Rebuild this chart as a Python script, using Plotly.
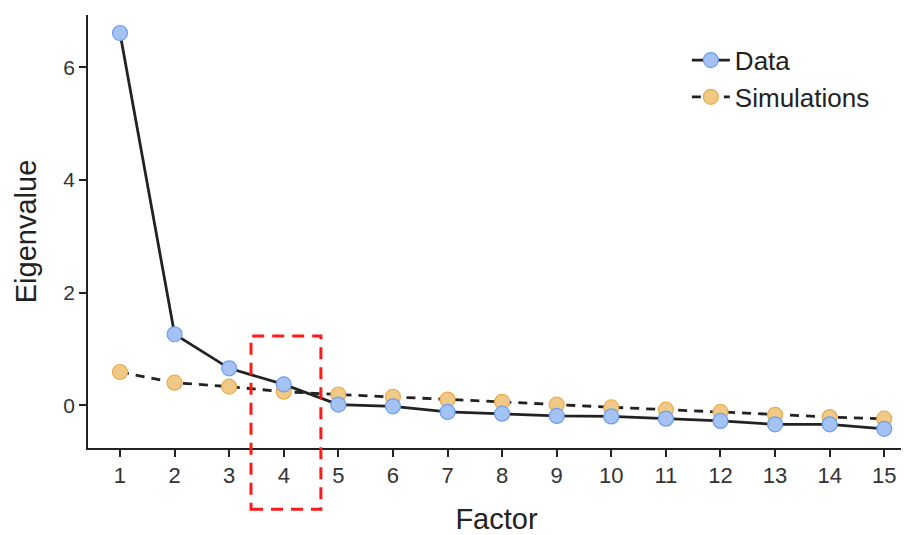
import plotly.graph_objects as go

factors = list(range(1, 16))
data_vals = [6.61, 1.26, 0.655, 0.37, 0.01, -0.02, -0.12, -0.15, -0.19, -0.20, -0.24, -0.28, -0.34, -0.34, -0.42]
sim_vals = [0.59, 0.40, 0.33, 0.24, 0.19, 0.15, 0.10, 0.06, 0.01, -0.04, -0.08, -0.12, -0.17, -0.21, -0.24]
x_ticks = list(range(1, 16))
y_ticks = [0, 2, 4, 6]

# highlight box around factor 4 (data units)
box_x = [3.40, 4.68]
box_y = [-1.85, 1.23]

x_range = [0.414, 15.38]
y_range = [-0.76, 6.93]

FONT = "Liberation Sans, Arial, Helvetica, sans-serif"
INK = "#222222"

fig = go.Figure()
fig.add_trace(go.Scatter(
    x=factors, y=sim_vals, name="Simulations", mode="lines+markers",
    line=dict(color=INK, width=2.8, dash="9px,7px"),
    marker=dict(size=15, color="#f0c987", line=dict(color="#e8ad52", width=1.2)),
    legendrank=2,
))
fig.add_trace(go.Scatter(
    x=factors, y=data_vals, name="Data", mode="lines+markers",
    line=dict(color=INK, width=2.8),
    marker=dict(size=15, color="#a4c2f4", line=dict(color="#6d9eeb", width=1.2)),
    legendrank=1,
))

def fx(v):
    return (v - x_range[0]) / (x_range[1] - x_range[0])

def fy(v):
    return (v - y_range[0]) / (y_range[1] - y_range[0])

fig.add_shape(type="rect", xref="x domain", yref="y domain",
              x0=fx(box_x[0]), x1=fx(box_x[1]), y0=fy(box_y[0]), y1=fy(box_y[1]),
              line=dict(color="#ff1a1a", width=3, dash="12px,8px"), layer="above")

# page body has an 8px default margin, so the figure is sized/offset to compensate
fig.update_layout(
    width=901, height=527,
    margin=dict(l=80, r=4, t=7, b=87),
    paper_bgcolor="white", plot_bgcolor="white",
    font=dict(family=FONT, color=INK),
    showlegend=True,
    legend=dict(x=0.733, y=0.95, xanchor="left", yanchor="top",
                font=dict(size=26, color=INK), bgcolor="rgba(0,0,0,0)",
                itemwidth=38, tracegroupgap=0),
    xaxis=dict(range=x_range, tickvals=x_ticks, ticktext=[str(t) for t in x_ticks],
               automargin=False,
               showgrid=False, zeroline=False, showline=True, linecolor=INK, linewidth=1.8,
               ticks="outside", ticklen=7, tickwidth=1.8, tickcolor=INK,
               tickfont=dict(size=22, color="#333333"),
               title=dict(text="Factor", font=dict(size=29, color=INK), standoff=28)),
    yaxis=dict(range=y_range, tickvals=y_ticks, ticktext=[str(t) for t in y_ticks],
               automargin=False,
               showgrid=False, zeroline=False, showline=True, linecolor=INK, linewidth=1.8,
               ticks="outside", ticklen=7, tickwidth=1.8, tickcolor=INK,
               tickfont=dict(size=21, color="#333333"),
               title=dict(text="Eigenvalue", font=dict(size=29, color=INK), standoff=18)),
)

fig.write_html("out.html")
